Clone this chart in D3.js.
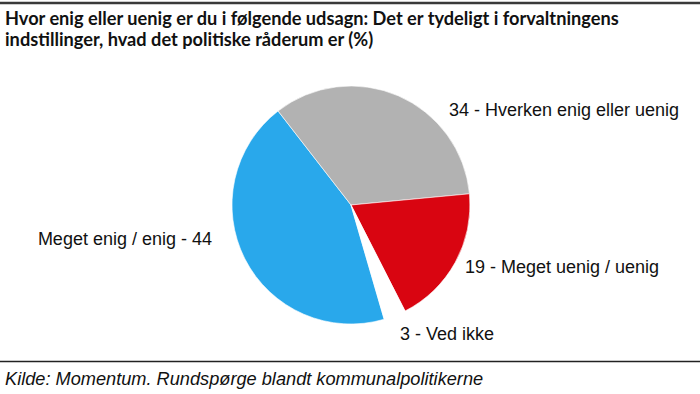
<!DOCTYPE html>
<html><head><meta charset="utf-8">
<script src="https://cdn.jsdelivr.net/npm/d3@7"></script>
<style>body{margin:0;background:#fff}svg{display:block}</style>
</head><body>
<script>
const categories = ["Meget enig / enig", "Hverken enig eller uenig", "Meget uenig / uenig", "Ved ikke"];
const values = [44, 34, 19, 3];
const colors = ["#29a8eb", "#b2b2b2", "#d90511", "#ffffff"];
const labels = ["Meget enig / enig - 44", "34 - Hverken enig eller uenig", "19 - Meget uenig / uenig", "3 - Ved ikke"];
const titleLines = ["Hvor enig eller uenig er du i følgende udsagn: Det er tydeligt i forvaltningens", "indstillinger, hvad det politiske råderum er (%)"];
const source = "Kilde: Momentum. Rundspørge blandt kommunalpolitikerne";

const W = 700, H = 394;
const svg = d3.select("body").append("svg").attr("width", W).attr("height", H);

svg.append("line").attr("x1", 0).attr("x2", W).attr("y1", 3).attr("y2", 3)
  .attr("stroke", "#3a3a3a").attr("stroke-width", 2.5);

svg.append("g").selectAll("text").data(titleLines).join("text")
  .attr("x", 5).attr("y", (d, i) => 25 + i * 21)
  .attr("font-family", "Lato").attr("font-weight", "bold").attr("font-size", 18.2)
  .attr("fill", "#111").text(d => d);

const cx = 351, cy = 205, r = 119;
const data = categories.map((c, i) => ({ c, v: values[i], col: colors[i], label: labels[i] }));
const pie = d3.pie().value(d => d.v).sort(null)
  .startAngle(163.8 * Math.PI / 180).endAngle(523.8 * Math.PI / 180);
const arc = d3.arc().innerRadius(0).outerRadius(r);
const arcs = pie(data);

const g = svg.append("g").attr("transform", `translate(${cx},${cy})`);
g.selectAll("path").data(arcs).join("path")
  .attr("d", arc).attr("fill", d => d.data.col)
  .attr("stroke", "#fff").attr("stroke-width", 0.6);

const labelPos = [
  { x: 212, y: 245, anchor: "end" },
  { x: 449, y: 116, anchor: "start" },
  { x: 465, y: 273, anchor: "start" },
  { x: 400, y: 340, anchor: "start" }
];
svg.append("g").selectAll("text").data(data).join("text")
  .attr("x", (d, i) => labelPos[i].x).attr("y", (d, i) => labelPos[i].y)
  .attr("text-anchor", (d, i) => labelPos[i].anchor)
  .attr("font-family", "Liberation Sans, Arial").attr("font-size", 18)
  .attr("fill", "#111").text(d => d.label);

svg.append("line").attr("x1", 0).attr("x2", W).attr("y1", 361.5).attr("y2", 361.5)
  .attr("stroke", "#222").attr("stroke-width", 1.5);

svg.append("text").attr("x", 5).attr("y", 385)
  .attr("font-family", "Liberation Sans, Arial").attr("font-style", "italic").attr("font-size", 18.2)
  .attr("fill", "#111").text(source);
</script>
</body></html>
